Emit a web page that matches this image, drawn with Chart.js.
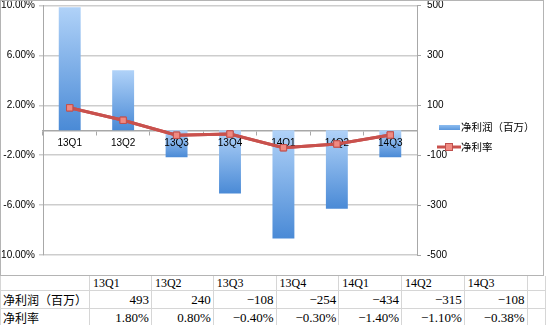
<!DOCTYPE html>
<html>
<head>
<meta charset="utf-8">
<script src="https://cdn.jsdelivr.net/npm/chart.js@4"></script>
<style>
  html, body { margin: 0; padding: 0; background: #fff; }
  body { width: 546px; height: 325px; overflow: hidden; position: relative; }
  #box { position: absolute; left: 0; top: 0; width: 546px; height: 276px; }
  #sheet { position: absolute; left: 0; top: 276px; border-collapse: collapse; table-layout: fixed; }
  #sheet td {
    height: 14px; padding: 0 2px; border: 1px solid #d6d6d6;
    font: 13px "Liberation Serif", "Noto Sans CJK SC", serif; color: #000;
    text-align: right; white-space: nowrap; overflow: hidden; line-height: 14px;
  }
  #sheet tr:first-child td { border-top: none; text-align: left; padding-left: 3px; font-size: 12px; }
  #sheet td.name { text-align: left; font: 12px "Noto Sans CJK SC", sans-serif; padding-left: 2px; }
</style>
</head>
<body>
<div id="box"><canvas id="profitChart" width="546" height="276"></canvas></div>
<table id="sheet"></table>
<script>
// quarterly net profit (millions) and net margin (%)
const quarters = ['13Q1', '13Q2', '13Q3', '13Q4', '14Q1', '14Q2', '14Q3'];
const netProfit = [493, 240, -108, -254, -434, -315, -108];
const netMargin = [1.8, 0.8, -0.4, -0.3, -1.4, -1.1, -0.38];

const profitLabel = '净利润（百万）';
const marginLabel = '净利率';

const barColor = '#5b9bd5';
const lineColor = '#c9514d';

// table under the chart
function fmtNum(v) {
    return v < 0 ? '\u2212' + Math.abs(v) : String(v);
}
function fmtPct(v) {
    return (v < 0 ? '\u2212' : '') + Math.abs(v).toFixed(2) + '%';
}
const sheet = document.getElementById('sheet');
const colWidths = [82, 65, 65, 65, 65, 65, 65, 65, 20];
let html = '<colgroup>' + colWidths.map(w => `<col style="width:${w}px">`).join('') + '</colgroup>';
html += '<tr><td></td>' + quarters.map(q => `<td>${q}</td>`).join('') + '<td></td></tr>';
html += `<tr><td class="name">${profitLabel}</td>` + netProfit.map(v => `<td>${fmtNum(v)}</td>`).join('') + '<td></td></tr>';
html += `<tr><td class="name">${marginLabel}</td>` + netMargin.map(v => `<td>${fmtPct(v)}</td>`).join('') + '<td></td></tr>';
html += '<tr><td></td>' + quarters.map(() => '<td></td>').join('') + '<td></td></tr>';
sheet.innerHTML = html;

// vertical gradient for each bar, light at the top, darker at the bottom
function barGradient(ctx) {
    const chart = ctx.chart;
    const scale = chart.scales.y1;
    if (!scale || ctx.type !== 'data') return barColor;
    const v = netProfit[ctx.dataIndex];
    const top = scale.getPixelForValue(Math.max(v, 0));
    const bottom = scale.getPixelForValue(Math.min(v, 0));
    if (!isFinite(top) || !isFinite(bottom) || top === bottom) return barColor;
    const g = chart.ctx.createLinearGradient(0, top, 0, bottom);
    g.addColorStop(0, '#b0d2f8');
    g.addColorStop(1, '#4a8ad6');
    return g;
}

// frame round the chart, line redrawn over the axis labels, legend at the right
const framePlugin = {
    id: 'frame',
    beforeDraw(chart) {
        const c = chart.ctx;
        c.save();
        c.fillStyle = '#fff';
        c.fillRect(0, 0, chart.width, chart.height);
        c.restore();
    },
    afterDraw(chart) {
        chart.getDatasetMeta(1).controller.draw();

        const c = chart.ctx;
        c.save();
        c.strokeStyle = '#b4b4b4';
        c.lineWidth = 1;
        c.strokeRect(0.5, 0.5, 543, 275);

        c.font = '10.5px "Noto Sans CJK SC", sans-serif';
        c.textBaseline = 'middle';

        // bar item
        const g = c.createLinearGradient(0, 125, 0, 130);
        g.addColorStop(0, '#8dbdf0');
        g.addColorStop(1, '#5b97dc');
        c.fillStyle = g;
        c.fillRect(439, 125, 21, 5);
        c.fillStyle = '#000';
        c.fillText(profitLabel, 461, 127.5);

        // line item
        c.strokeStyle = lineColor;
        c.lineWidth = 3;
        c.beginPath();
        c.moveTo(437, 147);
        c.lineTo(461, 147);
        c.stroke();
        c.fillStyle = '#f08a82';
        c.strokeStyle = '#c0504d';
        c.lineWidth = 1;
        c.fillRect(445, 143, 8, 8);
        c.strokeRect(445.5, 143.5, 7, 7);
        c.fillStyle = '#000';
        c.fillText(marginLabel, 461, 147.5);
        c.restore();
    }
};

const tickFont = { family: 'Liberation Sans, Arial, sans-serif', size: 10 };

const ctx = document.getElementById('profitChart').getContext('2d');
const profitChart = new Chart(ctx, {
    type: 'bar',
    data: {
        labels: quarters,
        datasets: [{
            type: 'bar',
            label: profitLabel,
            data: netProfit,
            yAxisID: 'y1',
            backgroundColor: barGradient,
            borderWidth: 0,
            categoryPercentage: 1,
            barPercentage: 0.41,
            order: 1
        }, {
            type: 'line',
            label: marginLabel,
            data: netMargin,
            yAxisID: 'y',
            borderColor: lineColor,
            borderWidth: 3,
            tension: 0,
            pointStyle: 'rect',
            pointRadius: 4.5,
            pointBackgroundColor: '#f08a82',
            pointBorderColor: '#c0504d',
            pointBorderWidth: 1,
            order: 0
        }]
    },
    options: {
        responsive: false,
        animation: false,
        layout: { padding: { top: 4, bottom: 21, left: 0, right: 0 } },
        plugins: {
            legend: { display: false },
            tooltip: { enabled: false }
        },
        scales: {
            x: {
                position: { y: 0 },
                offset: true,
                grid: {
                    display: true,
                    drawOnChartArea: false,
                    offset: true,
                    tickLength: 4,
                    color: '#a8a8a8'
                },
                border: { color: '#a8a8a8', width: 1.5 },
                ticks: { z: 1, color: '#000', font: tickFont, padding: 3, maxRotation: 0, autoSkip: false }
            },
            y: {
                position: 'left',
                min: -10,
                max: 10,
                ticks: {
                    stepSize: 4,
                    color: '#000',
                    font: tickFont,
                    padding: 4,
                    callback: v => v.toFixed(2) + '%'
                },
                grid: { color: '#cdcdcd', lineWidth: 1.5, tickLength: 4 },
                border: { color: '#a8a8a8', width: 1 },
                afterFit(scale) {
                    scale.width = 43;
                    scale.paddingTop = 0;
                    scale.paddingBottom = 0;
                }
            },
            y1: {
                position: 'right',
                min: -500,
                max: 500,
                ticks: { stepSize: 200, color: '#000', font: tickFont, padding: 6 },
                grid: { drawOnChartArea: false, tickLength: 4, color: '#a8a8a8' },
                border: { color: '#a8a8a8', width: 1 },
                afterFit(scale) {
                    scale.width = 129;
                    scale.paddingTop = 0;
                    scale.paddingBottom = 0;
                }
            }
        }
    },
    plugins: [framePlugin]
});
</script>
</body>
</html>
